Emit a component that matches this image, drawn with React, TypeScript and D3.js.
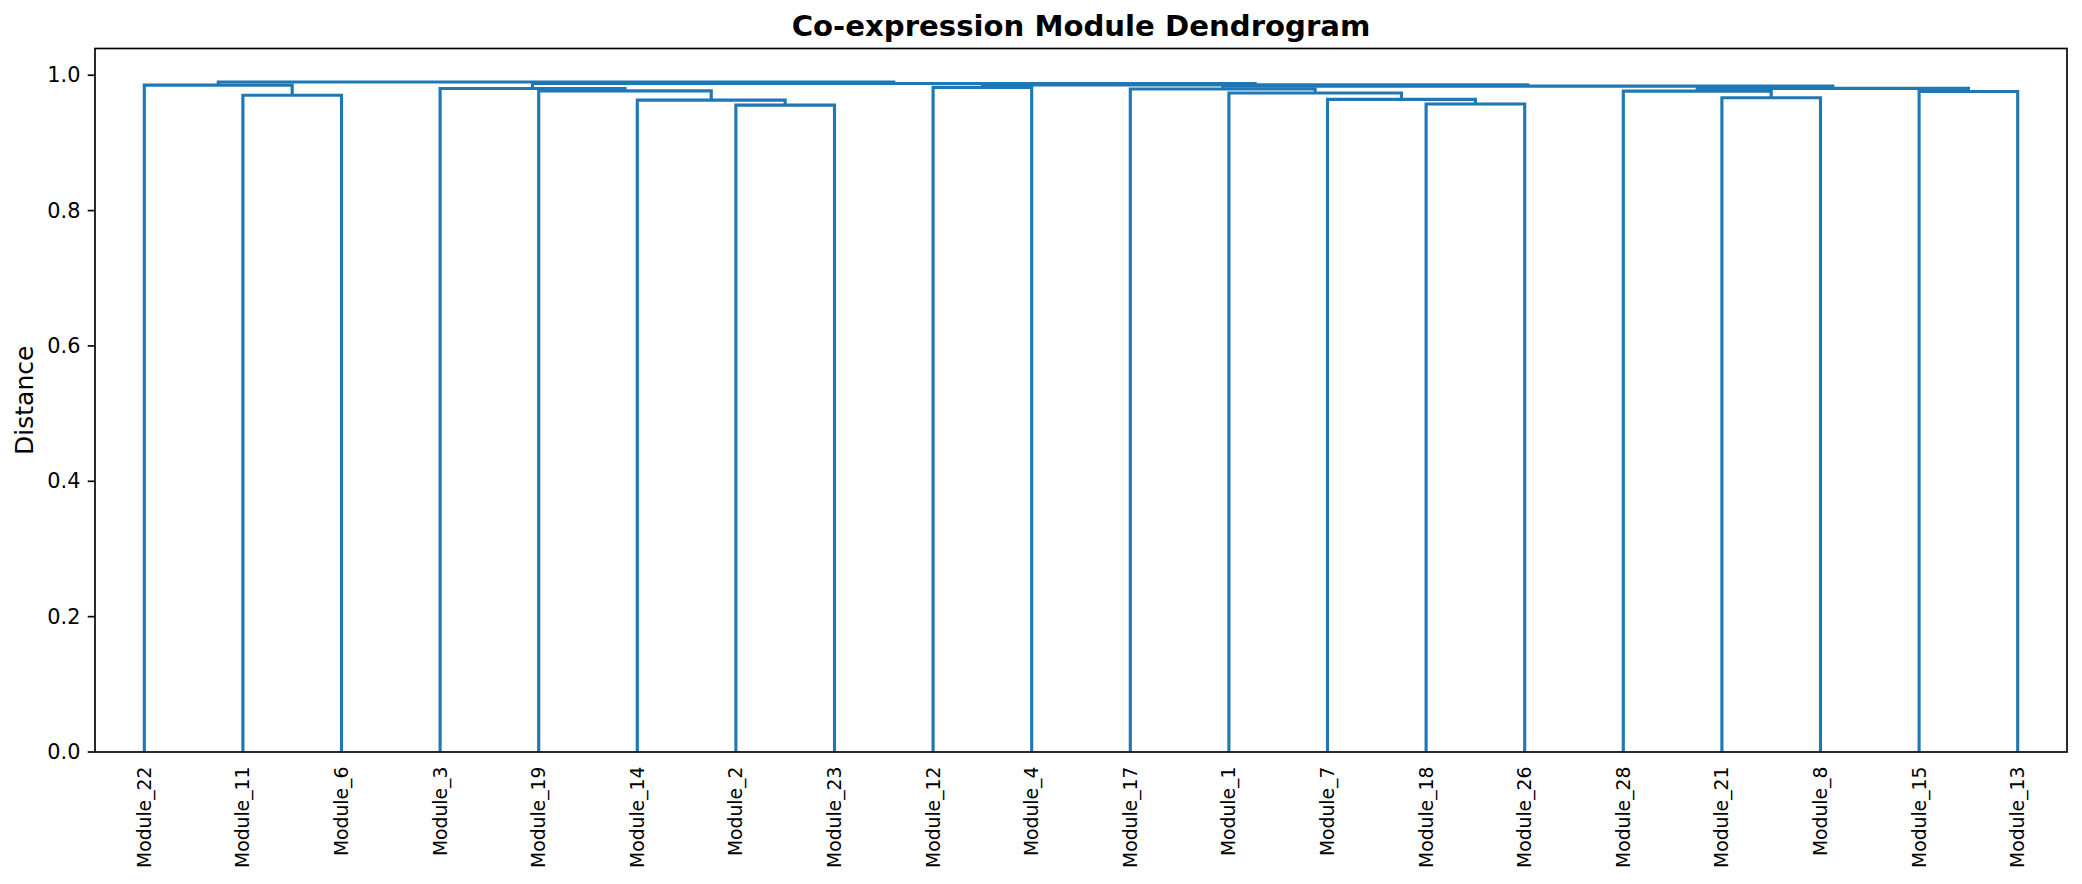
import React from "react";
import * as d3 from "d3";

const leafLabels = [
  "Module_22", "Module_11", "Module_6", "Module_3", "Module_19", "Module_14", "Module_2",
  "Module_23", "Module_12", "Module_4", "Module_17", "Module_1", "Module_7", "Module_18",
  "Module_26", "Module_28", "Module_21", "Module_8", "Module_15", "Module_13",
];
// linkage (scipy style): ids 0..19 are leaves in display order, 20+ are merges in this order
const mergeLeft = [6, 13, 5, 12, 16, 1, 11, 18, 4, 15, 10, 3, 29, 8, 30, 0, 33, 31, 35];
const mergeRight = [7, 14, 20, 21, 17, 2, 23, 19, 22, 24, 26, 28, 27, 9, 32, 25, 34, 36, 37];
const mergeHeight = [
  0.9558, 0.9575, 0.9632, 0.9643, 0.9667, 0.9705, 0.9738, 0.976, 0.9768, 0.9766,
  0.9797, 0.9804, 0.9806, 0.982, 0.9839, 0.9853, 0.9858, 0.9878, 0.99,
];
const yTicks = [0, 0.2, 0.4, 0.6, 0.8, 1.0];

const W = 2082;
const H = 884;
const left = 95;
const right = 2067;
const top = 48.5;
const bottom = 752;
const FONT = "DejaVu Sans";
const BLUE = "#1f77b4";

export default function App() {
  const n = leafLabels.length;
  const xScale = d3.scaleLinear().domain([0, n * 10]).range([left, right]);
  const ymax = (d3.max(mergeHeight) as number) * 1.05;
  const yScale = d3.scaleLinear().domain([0, ymax]).range([bottom, top]);

  // positions in data coords
  const pos: number[] = leafLabels.map((_, i) => 5 + 10 * i);
  const hgt: number[] = leafLabels.map(() => 0);
  mergeLeft.forEach((a, k) => {
    const b = mergeRight[k];
    pos.push((pos[a] + pos[b]) / 2);
    hgt.push(mergeHeight[k]);
  });

  const links = mergeLeft.map((a, k) => {
    const b = mergeRight[k];
    const h = mergeHeight[k];
    const p = d3.path();
    p.moveTo(xScale(pos[a]), yScale(hgt[a]));
    p.lineTo(xScale(pos[a]), yScale(h));
    p.lineTo(xScale(pos[b]), yScale(h));
    p.lineTo(xScale(pos[b]), yScale(hgt[b]));
    return p.toString();
  });

  const fmt = d3.format(".1f");
  const tickLen = 7.3;
  const pad = 7.3;

  return (
    <svg
      width={W}
      height={H}
      style={{ position: "absolute", left: 0, top: 0, background: "#fff" }}
      fontFamily={FONT}
    >
      <rect x={0} y={0} width={W} height={H} fill="#fff" />
      <text
        x={(left + right) / 2}
        y={36}
        textAnchor="middle"
        fontSize={29.17}
        fontWeight="bold"
      >
        Co-expression Module Dendrogram
      </text>
      <g>
        {links.map((d, i) => (
          <path key={i} d={d} fill="none" stroke={BLUE} strokeWidth={3.125} strokeLinejoin="miter" strokeLinecap="butt" />
        ))}
      </g>
      <rect
        x={left}
        y={top}
        width={right - left}
        height={bottom - top}
        fill="none"
        stroke="#000"
        strokeWidth={1.67}
      />
      {yTicks.map((t) => (
        <g key={t}>
          <line x1={left - tickLen} x2={left} y1={yScale(t)} y2={yScale(t)} stroke="#000" strokeWidth={1.67} />
          <text
            x={left - tickLen - pad}
            y={yScale(t)}
            textAnchor="end"
            dominantBaseline="central"
            fontSize={20.83}
          >
            {fmt(t)}
          </text>
        </g>
      ))}
      <text
        transform={`translate(33,${(top + bottom) / 2}) rotate(-90)`}
        textAnchor="middle"
        fontSize={25}
      >
        Distance
      </text>
      {leafLabels.map((lab, i) => (
        <text
          key={lab}
          transform={`translate(${xScale(pos[i])},${bottom + tickLen + pad}) rotate(-90)`}
          textAnchor="end"
          dominantBaseline="central"
          fontSize={18.75}
        >
          {lab}
        </text>
      ))}
    </svg>
  );
}
